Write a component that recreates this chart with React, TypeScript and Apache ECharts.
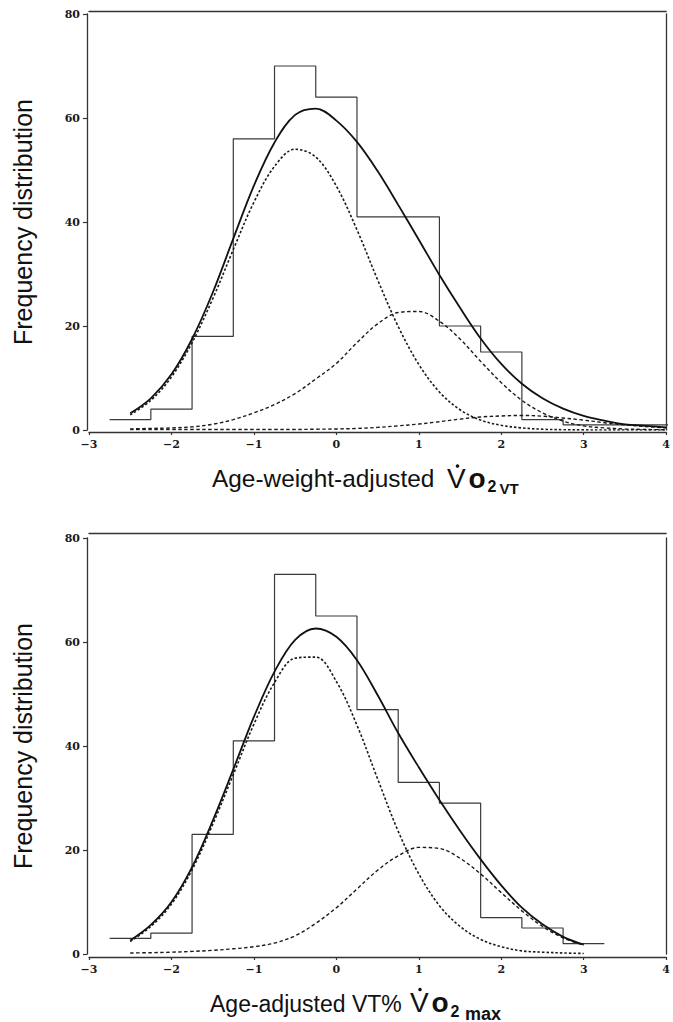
import React, { useEffect, useRef } from 'react';
import * as echarts from 'echarts';

// ---------- Top panel: Age-weight-adjusted VO2 VT ----------
const topEdges = [-2.75, -2.25, -1.75, -1.25, -0.75, -0.25, 0.25, 0.75, 1.25, 1.75, 2.25, 2.75, 3.25, 3.75, 4.25];
const topCounts = [2, 4, 18, 56, 70, 64, 41, 41, 20, 15, 2, 1, 1, 1];
const topX = [-2.5, -2.25, -2, -1.75, -1.5, -1.25, -1, -0.75, -0.5, -0.25, 0, 0.25, 0.5, 0.75, 1, 1.25, 1.5, 1.75, 2, 2.25, 2.5, 2.75, 3, 3.25, 3.5, 3.75, 4];
const topTotal = [3.2, 6.1, 10.7, 17.5, 26.4, 36.8, 47.0, 55.3, 60.6, 61.8, 59.5, 55.4, 49.8, 43.3, 36.6, 29.8, 23.5, 17.6, 12.7, 8.9, 6.1, 4.1, 2.7, 1.8, 1.1, 0.8, 0.5];
const topComp1 = [2.9, 5.7, 10.2, 16.8, 25.2, 34.7, 43.8, 50.7, 54.0, 52.5, 46.9, 38.5, 28.9, 19.9, 12.6, 7.3, 3.9, 1.9, 0.9, 0.4, 0.15, 0.05, 0.02, 0, 0, 0, 0];
const topComp2 = [0.2, 0.3, 0.4, 0.6, 1.1, 2.0, 3.3, 4.9, 7.0, 9.8, 12.8, 16.8, 20.4, 22.6, 22.8, 20.9, 17.5, 13.2, 9.1, 5.7, 3.3, 1.7, 0.8, 0.4, 0.2, 0.1, 0.05];
const topComp3 = [0.1, 0.1, 0.1, 0.1, 0.1, 0.1, 0.1, 0.1, 0.1, 0.15, 0.2, 0.3, 0.5, 0.8, 1.15, 1.6, 2.1, 2.5, 2.7, 2.8, 2.65, 2.3, 1.9, 1.4, 1.0, 0.65, 0.4];

// ---------- Bottom panel: Age-adjusted VT% VO2 max ----------
const botEdges = [-2.75, -2.25, -1.75, -1.25, -0.75, -0.25, 0.25, 0.75, 1.25, 1.75, 2.25, 2.75, 3.25];
const botCounts = [3, 4, 23, 41, 73, 65, 47, 33, 29, 7, 5, 2];
const botX = [-2.5, -2.25, -2, -1.75, -1.5, -1.25, -1, -0.75, -0.5, -0.25, 0, 0.25, 0.5, 0.75, 1, 1.25, 1.5, 1.75, 2, 2.25, 2.5, 2.75, 3];
const botTotal = [2.6, 5.6, 10.0, 16.7, 25.6, 35.5, 45.6, 54.3, 60.4, 62.6, 61.0, 56.5, 49.8, 42.5, 35.9, 29.6, 23.7, 18.2, 13.2, 8.9, 5.7, 3.3, 1.8];
const botComp1 = [2.4, 5.3, 9.6, 16.2, 24.9, 34.5, 44.2, 52.2, 56.9, 57.1, 52.4, 44.0, 33.7, 23.6, 15.4, 9.3, 5.3, 2.8, 1.4, 0.6, 0.35, 0.2, 0.1];
const botComp2 = [0.2, 0.25, 0.35, 0.5, 0.7, 1.0, 1.4, 2.1, 3.5, 5.9, 8.9, 12.5, 16.1, 18.9, 20.5, 20.3, 18.4, 15.4, 11.8, 8.3, 5.3, 3.1, 1.7];

const xTicks = { min: -3, max: 4, interval: 1 };
const yTicks = { min: 0, max: 80, interval: 20 };

const titleTop = { main: 'Age-weight-adjusted', sub: 'VT' };
const titleBot = { main: 'Age-adjusted VT%', sub: 'max' };
const yTitle = 'Frequency distribution';

const pairs = (xs: number[], ys: number[]) => xs.map((x, i) => [x, ys[i]]);
const steps = (edges: number[], counts: number[]) =>
  edges.map((e, i) => [e, counts[Math.min(i, counts.length - 1)]]);

const AXIS_COLOR = '#333';
const SANS = 'Liberation Sans, Arial, Helvetica, sans-serif';

function xAxisMain(gridIndex: number, offset: number) {
  return {
    gridIndex, type: 'value', ...xTicks, position: 'bottom', offset,
    axisLine: { show: true, onZero: false, lineStyle: { color: AXIS_COLOR, width: 1.3 } },
    axisTick: { show: true, length: 3, lineStyle: { color: AXIS_COLOR, width: 1.2 } },
    axisLabel: {
      margin: 7, color: '#1a1a1a', fontFamily: 'DejaVu Serif', fontWeight: 'bold', fontSize: 11,
      formatter: (v: number) => (v < 0 ? '\u2212' + Math.abs(v) : String(v)),
    },
    splitLine: { show: false },
  };
}
function xAxisTop(gridIndex: number, offset: number) {
  return {
    gridIndex, type: 'value', ...xTicks, position: 'top', offset,
    axisLine: { show: true, onZero: false, lineStyle: { color: AXIS_COLOR, width: 1.3 } },
    axisTick: { show: false }, axisLabel: { show: false }, splitLine: { show: false },
  };
}
function yAxisMain(gridIndex: number, offset: number) {
  return {
    gridIndex, type: 'value', ...yTicks, position: 'left', offset,
    axisLine: { show: true, onZero: false, lineStyle: { color: AXIS_COLOR, width: 1.3 } },
    axisTick: { show: true, length: 4, lineStyle: { color: AXIS_COLOR, width: 1.2 } },
    axisLabel: { margin: 7, color: '#1a1a1a', fontFamily: 'DejaVu Serif', fontWeight: 'bold', fontSize: 11 },
    splitLine: { show: false },
  };
}
function yAxisRight(gridIndex: number) {
  return {
    gridIndex, type: 'value', ...yTicks, position: 'right',
    axisLine: { show: true, onZero: false, lineStyle: { color: AXIS_COLOR, width: 1.3 } },
    axisTick: { show: false }, axisLabel: { show: false }, splitLine: { show: false },
  };
}

function panelSeries(xi: number, yi: number, edges: number[], counts: number[], xs: number[], total: number[], comps: number[][]) {
  const base = { type: 'line', xAxisIndex: xi, yAxisIndex: yi, showSymbol: false, symbol: 'none', silent: true, clip: true };
  const dashes = [[2.5, 2], [3.5, 2.5], [3.5, 2.5]];
  return [
    { ...base, data: steps(edges, counts), step: 'end', lineStyle: { color: '#3a3a3a', width: 1.2 } },
    ...comps.map((c, k) => ({
      ...base, data: pairs(xs, c), smooth: 0.35,
      lineStyle: { color: '#1a1a1a', width: k === 0 ? 1.6 : 1.4, type: dashes[k] },
    })),
    { ...base, data: pairs(xs, total), smooth: 0.35, lineStyle: { color: '#111', width: 1.8 } },
  ];
}

function titleGraphics(o: {
  main: string; sub: string; mainX: number; mainY: number; mainSize: number;
  vX: number; vY: number; dotX: number; dotY: number; oX: number; twoX: number; twoY: number;
  subX: number; subY: number; subSize: number;
}) {
  const t = (text: string, x: number, y: number, size: number, weight: string) => ({
    type: 'text', x, y, silent: true,
    style: { text, fontSize: size, fontFamily: SANS, fontWeight: weight, fill: '#111', align: 'left', verticalAlign: 'middle' },
  });
  return [
    t(o.main, o.mainX, o.mainY, o.mainSize, 'normal'),
    t('V', o.vX, o.vY, 28, 'normal'),
    { type: 'circle', shape: { cx: o.dotX, cy: o.dotY, r: 1.8 }, style: { fill: '#111' }, silent: true },
    t('o', o.oX, o.vY, 28, 'bold'),
    t('2', o.twoX, o.twoY, 16, 'bold'),
    t(o.sub, o.subX, o.subY, o.subSize, 'bold'),
  ];
}

export default function App() {
  const ref = useRef<HTMLDivElement>(null);
  useEffect(() => {
    if (!ref.current) return;
    const chart = echarts.init(ref.current, undefined, { renderer: 'svg' });
    const yTitleEl = (cy: number) => ({
      type: 'text', x: 23, y: cy, rotation: Math.PI / 2, silent: true,
      style: { text: yTitle, fontSize: 25, fontFamily: SANS, fill: '#111', align: 'center', verticalAlign: 'middle' },
    });
    chart.setOption({
      animation: false,
      backgroundColor: '#ffffff',
      grid: [
        { left: 89, top: 14, width: 581, height: 416 },
        { left: 89, top: 538, width: 581, height: 416 },
      ],
      xAxis: [xAxisMain(0, 2), xAxisTop(0, 3), xAxisMain(1, 3), xAxisTop(1, 5)],
      yAxis: [yAxisMain(0, 2), yAxisRight(0), yAxisMain(1, 2), yAxisRight(1)],
      series: [
        ...panelSeries(0, 0, topEdges, topCounts, topX, topTotal, [topComp1, topComp2, topComp3]),
        ...panelSeries(2, 2, botEdges, botCounts, botX, botTotal, [botComp1, botComp2]),
      ],
      graphic: [
        yTitleEl(222),
        yTitleEl(746),
        ...titleGraphics({
          main: titleTop.main, sub: titleTop.sub, mainX: 212, mainY: 478.5, mainSize: 24.4,
          vX: 447, vY: 478.3, dotX: 457.5, dotY: 466, oX: 468.5, twoX: 487.5, twoY: 486.5,
          subX: 499.5, subY: 488, subSize: 15,
        }),
        ...titleGraphics({
          main: titleBot.main, sub: titleBot.sub, mainX: 210, mainY: 1003.7, mainSize: 23,
          vX: 410, vY: 1002, dotX: 420, dotY: 989.5, oX: 431.5, twoX: 450.5, twoY: 1011,
          subX: 465, subY: 1013.5, subSize: 18,
        }),
      ],
    });
    return () => chart.dispose();
  }, []);
  return <div ref={ref} style={{ position: 'absolute', left: 0, top: 0, width: 673, height: 1022 }} />;
}
